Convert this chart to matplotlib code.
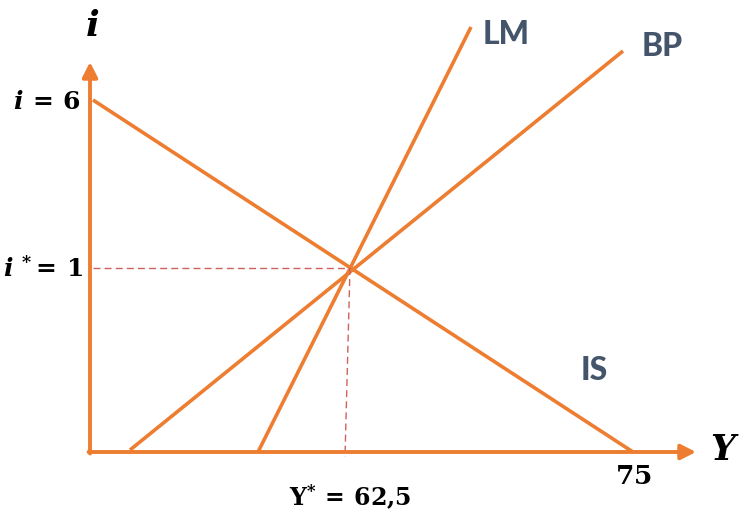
import numpy as np
import matplotlib
matplotlib.use('Agg')
import matplotlib.pyplot as plt

plt.rcParams['mathtext.fontset'] = 'custom'
plt.rcParams['mathtext.rm'] = 'DejaVu Serif:bold'
plt.rcParams['mathtext.it'] = 'DejaVu Serif:italic:bold'
plt.rcParams['mathtext.bf'] = 'DejaVu Serif:bold'

# 示意图坐标 (原点为 0,0)
curve_names = ['IS', 'LM', 'BP']
is_Y = [3, 543]
is_i = [352, 0]
lm_Y = [168, 381]
lm_i = [0, 425]
bp_Y = [40, 533]
bp_i = [2, 401]

# 均衡点
eq_Y = 260
eq_i = 184
eq_foot_Y = 255

# 坐标轴长度
axis_Y_end = 606
axis_i_end = 390

tick_i_pos = [350, 183]
tick_i_labels = [r'$i\,=\,6$', r'$i^{\,*}\!=\,1$']
tick_Y_pos = [260, 543]
tick_Y_labels = [r'$\mathrm{Y}^{*}\,=\,62{,}5$', r'$75$']

orange = '#ED7D31'
slate = '#44546A'
dash_red = '#D0605E'

fig = plt.figure(figsize=(7.4, 5.13), dpi=100)
ax = fig.add_axes([0, 0, 1, 1])
ax.set_xlim(-90, 650)
ax.set_ylim(-61, 452)
ax.axis('off')

# 坐标轴箭头
arrow_kw = dict(arrowstyle='-|>,head_length=0.75,head_width=0.38', color=orange,
                lw=2.8, shrinkA=0, shrinkB=0, mutation_scale=12)
ax.annotate('', xy=(0, axis_i_end), xytext=(0, -1.5), arrowprops=arrow_kw)
ax.annotate('', xy=(axis_Y_end, 0), xytext=(-1.5, 0), arrowprops=arrow_kw)

# 三条曲线
ax.plot(is_Y, is_i, color=orange, lw=2.6, solid_capstyle='butt')
ax.plot(lm_Y, lm_i, color=orange, lw=2.6, solid_capstyle='butt')
ax.plot(bp_Y, bp_i, color=orange, lw=2.6, solid_capstyle='butt')

# 虚线
ax.plot([3, eq_Y], [eq_i, eq_i], color=dash_red, lw=1.0, dashes=(5, 3))
ax.plot([eq_Y, eq_foot_Y], [eq_i, -5], color=dash_red, lw=1.0, dashes=(5, 3))

# 文字
ax.text(2, 426, r'$i$', fontsize=26, ha='center', va='center')
ax.text(635, 2, r'$Y$', fontsize=25, ha='center', va='center')
ax.text(-9, tick_i_pos[0], tick_i_labels[0], fontsize=18, ha='right', va='center')
ax.text(-7, tick_i_pos[1], tick_i_labels[1], fontsize=18, ha='right', va='center')
ax.text(tick_Y_pos[0], -45, tick_Y_labels[0], fontsize=17, ha='center', va='center')
ax.text(tick_Y_pos[1], -25, tick_Y_labels[1], fontsize=19, ha='center', va='center')

label_pos = {'IS': (491, 82), 'LM': (393, 417), 'BP': (552, 406)}
for name in curve_names:
    x, y = label_pos[name]
    ax.text(x, y, name, fontsize=23, fontweight='black', family='Lato', color=slate,
            ha='left', va='center')

plt.savefig('out.png', dpi=100)
plt.close()
